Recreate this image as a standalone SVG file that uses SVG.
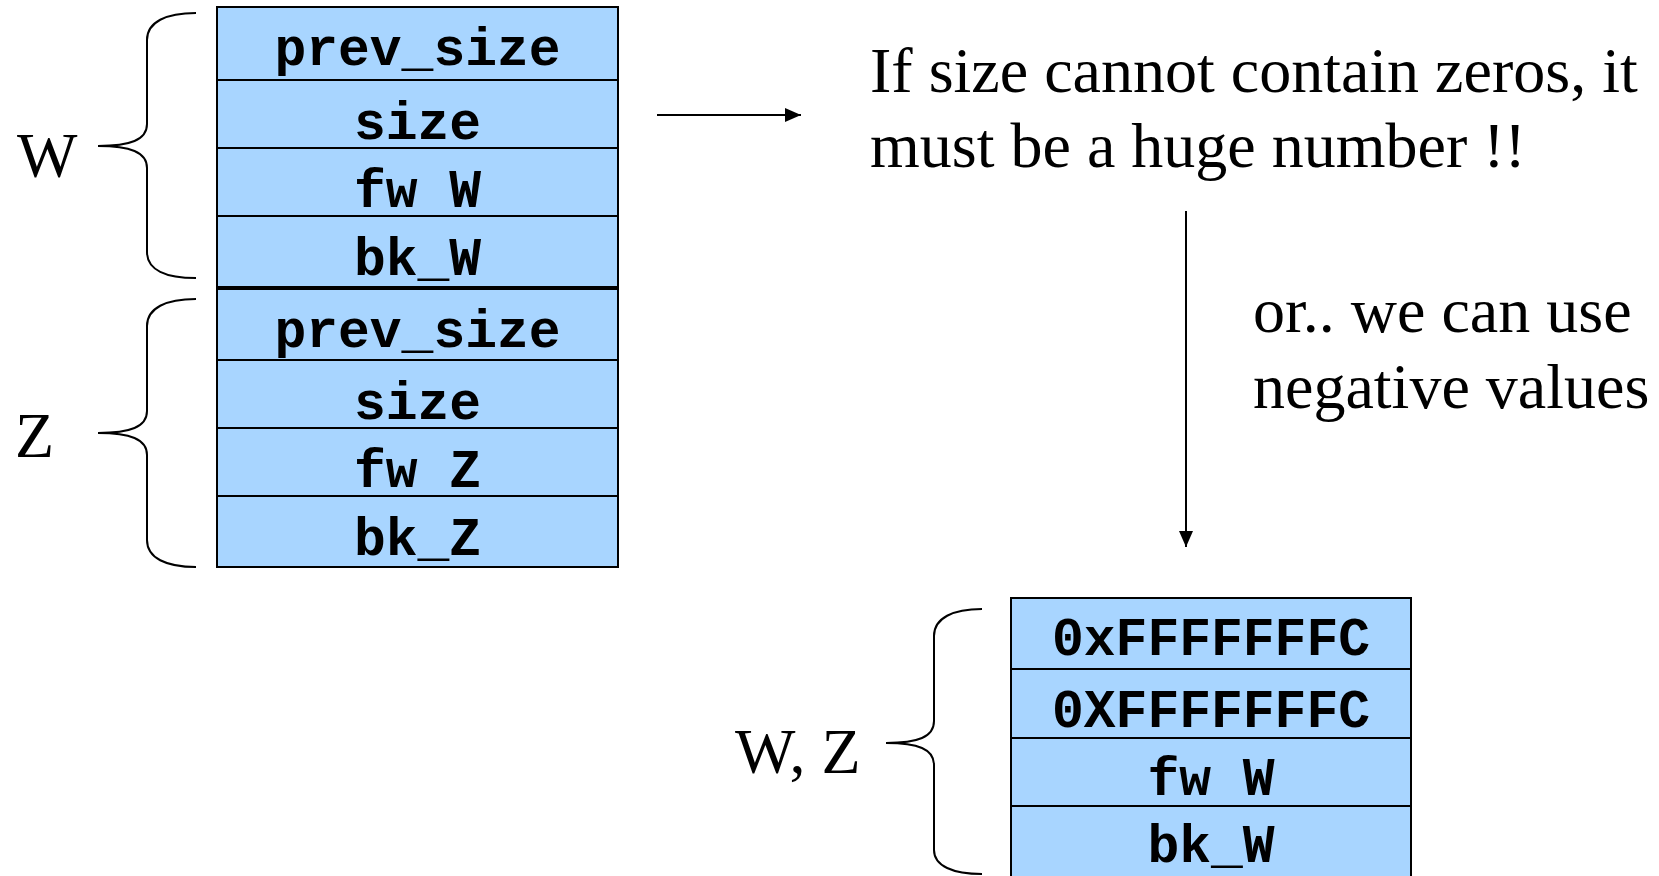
<svg xmlns="http://www.w3.org/2000/svg" width="1659" height="876" viewBox="0 0 1659 876">
  <style>
    .cell { fill: #a8d5ff; stroke: #000; stroke-width: 2; }
    .mono { font-family: "Liberation Mono", "Courier New", monospace; font-weight: bold; font-size: 53px; fill: #000; text-anchor: middle; }
    .serif { font-family: "Liberation Serif", "Times New Roman", serif; font-size: 64px; fill: #000; }
    .brace { fill: none; stroke: #000; stroke-width: 2; }
    .wire { fill: none; stroke: #000; stroke-width: 2; }
  </style>
  <defs>
    <marker id="head" viewBox="0 0 16 14" refX="16" refY="7" markerWidth="16" markerHeight="14" markerUnits="userSpaceOnUse" orient="auto">
      <path d="M0,0 L16,7 L0,14 Z" fill="#000"/>
    </marker>
  </defs>

  <rect width="1659" height="876" fill="#fff"/>

  <!-- chunk W -->
  <g id="chunk-w">
    <rect class="cell" x="217" y="7" width="401" height="73"/>
    <rect class="cell" x="217" y="80" width="401" height="68"/>
    <rect class="cell" x="217" y="148" width="401" height="68"/>
    <rect class="cell" x="217" y="216" width="401" height="71"/>
    <text class="mono" x="417.5" y="65">prev_size</text>
    <text class="mono" x="417.5" y="139">size</text>
    <text class="mono" x="417.5" y="207">fw W</text>
    <text class="mono" x="417.5" y="275">bk_W</text>
  </g>

  <!-- chunk Z -->
  <g id="chunk-z">
    <rect class="cell" x="217" y="289" width="401" height="71"/>
    <rect class="cell" x="217" y="360" width="401" height="68"/>
    <rect class="cell" x="217" y="428" width="401" height="68"/>
    <rect class="cell" x="217" y="496" width="401" height="71"/>
    <text class="mono" x="417.5" y="347">prev_size</text>
    <text class="mono" x="417.5" y="419">size</text>
    <text class="mono" x="417.5" y="487">fw Z</text>
    <text class="mono" x="417.5" y="555">bk_Z</text>
  </g>

  <!-- merged chunk W, Z -->
  <g id="chunk-wz">
    <rect class="cell" x="1011" y="598" width="400" height="71"/>
    <rect class="cell" x="1011" y="669" width="400" height="69"/>
    <rect class="cell" x="1011" y="738" width="400" height="68"/>
    <rect class="cell" x="1011" y="806" width="400" height="76"/>
    <text class="mono" x="1211" y="655">0xFFFFFFFC</text>
    <text class="mono" x="1211" y="727">0XFFFFFFFC</text>
    <text class="mono" x="1211" y="795">fw W</text>
    <text class="mono" x="1211" y="862">bk_W</text>
  </g>

  <!-- braces and their labels -->
  <g id="brace-w">
    <path class="brace" d="M196,13 C166,13 147,22 147,40 L147,124 C147,140 130,146 98,146 C130,146 147,152 147,168 L147,252 C147,270 166,278 196,278"/>
    <text class="serif" x="17" y="177">W</text>
  </g>
  <g id="brace-z">
    <path class="brace" d="M196,299 C166,299 147,308 147,326 L147,411 C147,427 130,433 98,433 C130,433 147,439 147,455 L147,540 C147,558 166,567 196,567"/>
    <text class="serif" x="15" y="457">Z</text>
  </g>
  <g id="brace-wz">
    <path class="brace" d="M982,609 C953,609 934,618 934,636 L934,721 C934,737 918,743 886,743 C918,743 934,749 934,765 L934,850 C934,866 953,874 982,874"/>
    <text class="serif" x="735" y="773">W, Z</text>
  </g>

  <!-- notes -->
  <g id="note-huge">
    <text class="serif" x="870" y="92">If size cannot contain zeros, it</text>
    <text class="serif" x="870" y="167">must be a huge number !!</text>
  </g>
  <g id="note-negative">
    <text class="serif" x="1253" y="332">or.. we can use</text>
    <text class="serif" x="1253" y="408">negative values</text>
  </g>

  <!-- connectors -->
  <g id="connectors">
    <line class="wire" x1="657" y1="115" x2="801" y2="115" marker-end="url(#head)"/>
    <line class="wire" x1="1186" y1="211" x2="1186" y2="547" marker-end="url(#head)"/>
  </g>
</svg>
